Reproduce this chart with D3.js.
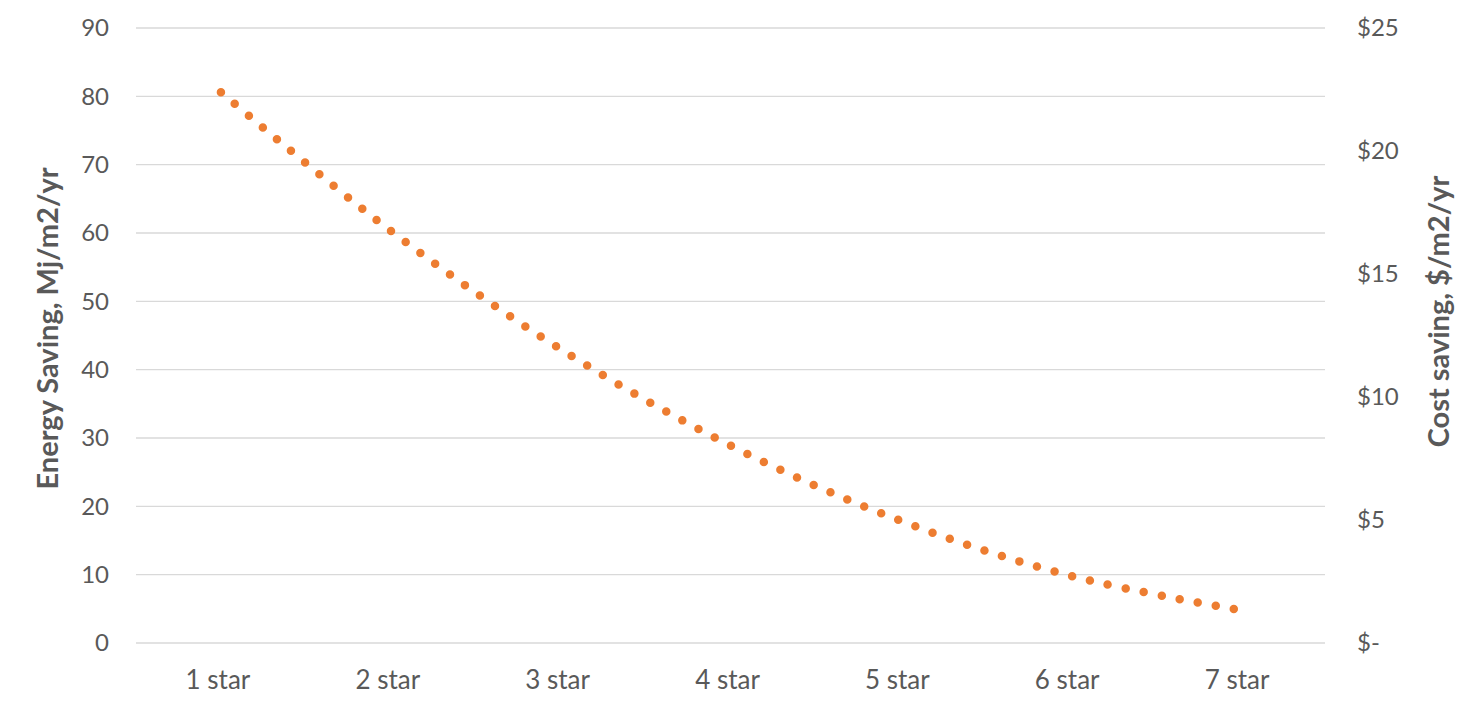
<!DOCTYPE html>
<html>
<head>
<meta charset="utf-8">
<script src="https://cdn.jsdelivr.net/npm/d3@7"></script>
<style>
  html, body { margin: 0; padding: 0; background: #fff; }
  svg { display: block; }
  text { font-family: Lato, "Open Sans", sans-serif; fill: #595959; }
</style>
</head>
<body>
<svg id="chart" width="1484" height="711"></svg>
<script>
// ---- data ----
const categories = ["1 star", "2 star", "3 star", "4 star", "5 star", "6 star", "7 star"];
const energySaving = [80.6, 60.3, 43.0, 28.9, 17.9, 9.85, 4.8];
const leftTicks = [0, 10, 20, 30, 40, 50, 60, 70, 80, 90];
const rightTicks = [0, 5, 10, 15, 20, 25];
const leftTitle = "Energy Saving, Mj/m2/yr";
const rightTitle = "Cost saving, $/m2/yr";

// ---- layout ----
const W = 1484, H = 711;
const plot = { left: 136, right: 1325, top: 28, bottom: 643 };
const svg = d3.select("#chart");

const x = d3.scaleBand().domain(categories).range([plot.left, plot.right]).padding(0);
const cx = c => x(c) + x.bandwidth() / 2;
const y = d3.scaleLinear().domain([0, 90]).range([plot.bottom, plot.top]);
const y2 = d3.scaleLinear().domain([0, 25]).range([plot.bottom, plot.top]);

// gridlines
svg.append("g").selectAll("line").data(leftTicks).join("line")
  .attr("x1", plot.left).attr("x2", plot.right)
  .attr("y1", d => y(d)).attr("y2", d => y(d))
  .attr("stroke", "#d9d9d9").attr("stroke-width", 1.3);

// left axis
const gl = svg.append("g").attr("transform", `translate(${plot.left},0)`)
  .call(d3.axisLeft(y).tickValues(leftTicks).tickSize(0).tickPadding(27));
gl.select(".domain").remove();
gl.selectAll("text").attr("font-size", 24).attr("fill", "#595959").style("font-family", "Lato");

// right axis
const gr = svg.append("g").attr("transform", `translate(${plot.right},0)`)
  .call(d3.axisRight(y2).tickValues(rightTicks).tickSize(0).tickPadding(32)
    .tickFormat(d => d === 0 ? "$-" : "$" + d));
gr.select(".domain").remove();
gr.selectAll("text").attr("font-size", 24).attr("fill", "#595959").style("font-family", "Lato");

// bottom axis
const gb = svg.append("g").attr("transform", `translate(0,${plot.bottom})`)
  .call(d3.axisBottom(x).tickSize(0).tickPadding(28));
gb.select(".domain").remove();
gb.selectAll("text").attr("font-size", 26).attr("fill", "#595959").style("font-family", "Lato")
  .attr("dx", -3);

// axis titles
svg.append("text")
  .attr("transform", `translate(46,${(plot.top + plot.bottom) / 2 - 7}) rotate(-90)`)
  .attr("text-anchor", "middle").attr("dominant-baseline", "central")
  .attr("font-size", 29).attr("font-weight", "bold")
  .text(leftTitle);
svg.append("text")
  .attr("transform", `translate(1437,${(plot.top + plot.bottom) / 2 - 24}) rotate(-90)`)
  .attr("text-anchor", "middle").attr("dominant-baseline", "central")
  .attr("font-size", 29).attr("font-weight", "bold")
  .text(rightTitle);

// dotted smooth line
const line = d3.line()
  .x((d, i) => cx(categories[i]))
  .y(d => y(d))
  .curve(d3.curveCatmullRom.alpha(0.5));
svg.append("path")
  .datum(energySaving)
  .attr("d", line)
  .attr("fill", "none")
  .attr("stroke", "#ED7D31")
  .attr("stroke-width", 8.5)
  .attr("stroke-linecap", "round")
  .attr("stroke-dasharray", "0 18.3");
</script>
</body>
</html>
